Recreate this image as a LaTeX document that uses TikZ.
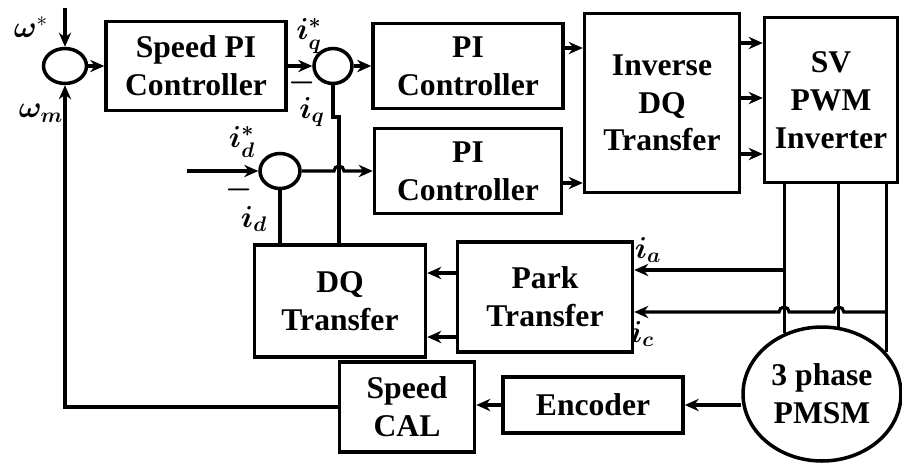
\documentclass[tikz,border=0pt]{standalone}
\usepackage{amsmath}
\usepackage{fontspec}
\setmainfont{Liberation Serif}
\usetikzlibrary{shapes.geometric, arrows.meta, positioning, calc}

\begin{document}
\begin{tikzpicture}[
    x=0.02cm, y=-0.02cm,
    box/.style={rectangle, draw, line width=2pt, inner sep=2pt, align=center, font=\fontsize{18}{21.5}\selectfont\bfseries},
    sum/.style={ellipse, draw, line width=2pt, inner sep=0pt},
    arrow/.style={->, >={Stealth[length=8pt, width=7pt]}, line width=1.8pt},
    wire/.style={line width=1.8pt},
    lbl/.style={font=\fontsize{17}{19}\selectfont, inner sep=0pt}
]
\useasboundingbox (0,0) rectangle (902,471);

% forward path
\node[sum, minimum width=0.86cm, minimum height=0.7cm] (sumw) at (65,66) {};
\node[box, minimum width=3.6cm, minimum height=1.78cm] (spd) at (196,66) {Speed PI\\Controller};
\node[sum, minimum width=0.76cm, minimum height=0.7cm] (sumq) at (333,66) {};
\node[box, minimum width=3.8cm, minimum height=1.7cm] (piq) at (468,66) {PI\\Controller};
\node[sum, minimum width=0.8cm, minimum height=0.7cm] (sumd) at (280,171) {};
\node[box, minimum width=3.74cm, minimum height=1.7cm] (pid) at (468,171) {PI\\Controller};
\node[box, minimum width=3.1cm, minimum height=3.58cm] (invdq) at (662,103) {Inverse\\DQ\\Transfer};
\node[box, minimum width=2.66cm, minimum height=3.3cm] (svpwm) at (831,100) {SV\\PWM\\Inverter};

% feedback path
\node[box, minimum width=3.42cm, minimum height=2.24cm] (dq) at (340,301) {DQ\\Transfer};
\node[box, minimum width=3.5cm, minimum height=2.2cm] (park) at (545,297) {Park\\Transfer};
\node[box, minimum width=2.7cm, minimum height=1.8cm] (cal) at (407,407) {Speed\\CAL};
\node[box, minimum width=3.6cm, minimum height=1.12cm] (enc) at (593,405) {Encoder};
\node[box, ellipse, minimum width=3.16cm, minimum height=2.68cm, inner sep=0pt] (pmsm) at (822,394) {3 phase\\PMSM};

\coordinate (wref) at (65,8);
\coordinate (idref) at (187,171);
\coordinate (jog) at (339,117);
\coordinate (yq) at (0,48);
\coordinate (yd) at (0,183);
\coordinate (ia) at (0,270);
\coordinate (ic) at (0,312);

\draw[arrow] (wref) -- (sumw.north);
\draw[arrow] (sumw) -- (spd);
\draw[arrow] (spd) -- (sumq);
\draw[arrow] (sumq) -- (piq);
\draw[arrow] (idref) -- (sumd.west);
\draw[arrow] (sumd.east) -- ($(jog |- sumd)+(-5,0)$) arc[start angle=180, end angle=0, radius=0.1cm] -- (pid.west);
\draw[arrow] (piq.east |- yq) -- (invdq.west |- yq);
\draw[arrow] (pid.east |- yd) -- (invdq.west |- yd);
\foreach \y in {43,98,154}
    \draw[arrow] (invdq.east |- 0,\y) -- (svpwm.west |- 0,\y);

\draw[wire] (sumq.south) -- (sumq.south |- jog) -- (jog) -- (jog |- dq.north);
\draw[wire] (sumd.south) -- (sumd.south |- dq.north);

% phase lines
\foreach \a in {122,76,33}
    \draw[wire] (svpwm.south -| pmsm.\a) -- (pmsm.\a);
\draw[arrow] (pmsm.122 |- ia) -- (park.east |- ia);
\draw[arrow] (pmsm.33 |- ic) -- ($(pmsm.76 |- ic)+(5,0)$) arc[start angle=0, end angle=180, radius=0.1cm]
    -- ($(pmsm.122 |- ic)+(5,0)$) arc[start angle=0, end angle=180, radius=0.1cm] -- (park.east |- ic);
\foreach \y in {273,337}
    \draw[arrow] (park.west |- 0,\y) -- (dq.east |- 0,\y);

\draw[arrow] (pmsm.west |- enc) -- (enc);
\draw[arrow] (enc) -- (cal.east |- enc);
\draw[arrow] (cal.west) -| (sumw.south);

% labels
\node[lbl] (lwref) at (31,27) {$\boldsymbol{\omega}^{*}$};
\node[lbl] (lwm) at (41,113) {$\boldsymbol{\omega_m}$};
\node[lbl] (liqref) at (309,36) {$\boldsymbol{i_q^{*}}$};
\node[lbl] (lmq) at (302,83) {$\boldsymbol{-}$};
\node[lbl] (liq) at (312,112) {$\boldsymbol{i_q}$};
\node[lbl] (lidref) at (242,142) {$\boldsymbol{i_d^{*}}$};
\node[lbl] (lmd) at (239,190) {$\boldsymbol{-}$};
\node[lbl] (lid) at (254,219) {$\boldsymbol{i_d}$};
\node[lbl] (lia) at (648,250) {$\boldsymbol{i_a}$};
\node[lbl] (lic) at (642,334) {$\boldsymbol{i_c}$};

\end{tikzpicture}
\end{document}
